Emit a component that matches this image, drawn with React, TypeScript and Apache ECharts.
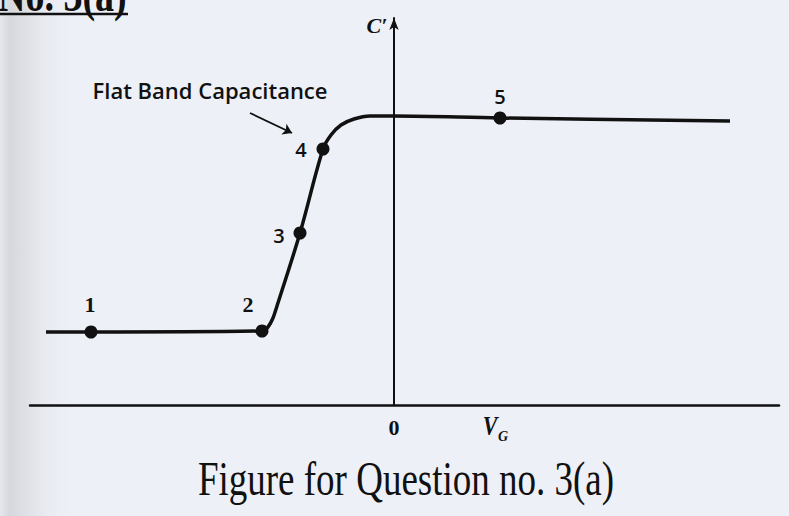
import React, { useEffect, useRef } from "react";
import * as echarts from "echarts";

// C'-V curve (x: V_G, y: C')
const curveX = [-3.48, -3.03, -1.32, -1.26, -1.21, -1.17, -0.94, -0.71, -0.63, -0.53, -0.4, -0.24, 0, 1.06, 3.36];
const curveY = [0.73, 0.73, 0.74, 0.78, 0.87, 0.99, 1.72, 2.56, 2.7, 2.8, 2.86, 2.89, 2.89, 2.87, 2.84];

// numbered points on the curve
const pointX = [-3.03, -1.32, -0.94, -0.71, 1.06];
const pointY = [0.73, 0.74, 1.72, 2.56, 2.87];
const pointLabels = ["1", "2", "3", "4", "5"];

// annotation arrow (data coords)
const arrowFrom = [-1.44, 2.92];
const arrowTo = [-1.02, 2.72];

// axes
const xRange = [-3.64, 3.85];
const yRange = [0, 3.87];
const xTickValues = [0];
const xTickLabels = ["0"];

const INK = "#111111";
const SERIF = "'Liberation Serif', 'DejaVu Serif', serif";
const SANS = "'Open Sans', 'Noto Sans', sans-serif";

export default function App() {
  const ref = useRef<HTMLDivElement>(null);

  useEffect(() => {
    if (!ref.current) return;
    const chart = echarts.init(ref.current, undefined, { renderer: "svg" });

    const labelCfg = [
      { offset: [-1, -28], fontFamily: SERIF, fontSize: 22, fontWeight: "bold" },
      { offset: [-14, -27], fontFamily: SERIF, fontSize: 22, fontWeight: "bold" },
      { offset: [-21, 2], fontFamily: SANS, fontSize: 20, fontWeight: 600 },
      { offset: [-22, 0], fontFamily: SANS, fontSize: 20, fontWeight: 600 },
      { offset: [0, -22], fontFamily: SANS, fontSize: 20, fontWeight: 600 },
    ];

    const option: any = {
      animation: false,
      backgroundColor: "#eef0f7",
      grid: { left: 30, right: 10, top: 18, bottom: 111 },
      xAxis: {
        type: "value",
        min: xRange[0],
        max: xRange[1],
        axisLine: { show: true, onZero: true, lineStyle: { color: INK, width: 2.5 } },
        axisTick: { show: false },
        splitLine: { show: false },
        axisLabel: {
          show: true,
          customValues: xTickValues,
          formatter: (v: number) => {
            const i = xTickValues.findIndex((t) => Math.abs(t - v) < 1e-9);
            return i >= 0 ? xTickLabels[i] : "";
          },
          margin: 11,
          color: INK,
          fontFamily: SERIF,
          fontWeight: "bold",
          fontSize: 22,
        },
      },
      yAxis: {
        type: "value",
        min: yRange[0],
        max: yRange[1],
        axisLine: {
          show: true,
          onZero: true,
          symbol: ["none", "arrow"],
          symbolSize: [7, 12],
          lineStyle: { color: INK, width: 2 },
        },
        axisTick: { show: false },
        axisLabel: { show: false },
        splitLine: { show: false },
      },
      series: [
        {
          type: "line",
          data: curveX.map((x, i) => [x, curveY[i]]),
          smooth: 0.35,
          symbol: "none",
          lineStyle: { color: INK, width: 3.5 },
          z: 3,
        },
        {
          type: "scatter",
          data: pointX.map((x, i) => ({
            value: [x, pointY[i]],
            label: {
              show: true,
              position: "inside",
              formatter: pointLabels[i],
              color: INK,
              opacity: 1,
              ...labelCfg[i],
            },
          })),
          symbol: "circle",
          symbolSize: 13,
          itemStyle: { color: INK, opacity: 1 },
          emphasis: { disabled: true },
          z: 4,
        },
        {
          type: "lines",
          coordinateSystem: "cartesian2d",
          data: [{ coords: [arrowFrom, arrowTo] }],
          symbol: ["none", "arrow"],
          symbolSize: [0, 9],
          lineStyle: { color: INK, width: 1.8, opacity: 1, curveness: 0 },
          z: 4,
        },
      ],
      graphic: [
        {
          type: "rect",
          z: -10,
          shape: { x: 0, y: 0, width: 80, height: 516 },
          style: {
            fill: {
              type: "linear",
              x: 0, y: 0, x2: 1, y2: 0,
              colorStops: [
                { offset: 0, color: "#e6e7ec" },
                { offset: 0.12, color: "#d7d8de" },
                { offset: 0.32, color: "#dfe0e6" },
                { offset: 0.5, color: "#e6e8ee" },
                { offset: 1, color: "rgba(238,240,247,0)" },
              ],
            },
          },
        },
        {
          type: "text",
          x: -2,
          y: -5,
          scaleY: 1.3,
          style: {
            text: "No. 3(a)",
            fill: INK,
            font: `bold 38px ${SERIF}`,
            align: "left",
            verticalAlign: "middle",
          },
        },
        {
          type: "line",
          shape: { x1: 0, y1: 14, x2: 128, y2: 14 },
          style: { stroke: INK, lineWidth: 2.5 },
        },
        {
          type: "text",
          x: 210,
          y: 90,
          style: {
            text: "Flat Band Capacitance",
            fill: INK,
            font: `600 22px ${SANS}`,
            align: "center",
            verticalAlign: "middle",
          },
        },
        {
          type: "text",
          x: 377,
          y: 25,
          style: {
            text: "C′",
            fill: INK,
            font: `italic bold 22px ${SERIF}`,
            align: "center",
            verticalAlign: "middle",
          },
        },
        {
          type: "text",
          x: 490,
          y: 426,
          scaleY: 1.2,
          style: {
            text: "V",
            fill: INK,
            font: `italic bold 22px ${SERIF}`,
            align: "center",
            verticalAlign: "middle",
          },
        },
        {
          type: "text",
          x: 503,
          y: 436,
          style: {
            text: "G",
            fill: INK,
            font: `italic bold 14px ${SERIF}`,
            align: "center",
            verticalAlign: "middle",
          },
        },
        {
          type: "text",
          x: 406,
          y: 479,
          scaleY: 1.3,
          style: {
            text: "Figure for Question no. 3(a)",
            fill: INK,
            font: `37px ${SERIF}`,
            align: "center",
            verticalAlign: "middle",
          },
        },
      ],
    };

    chart.setOption(option);
    return () => chart.dispose();
  }, []);

  return (
    <div
      ref={ref}
      style={{ position: "fixed", left: 0, top: 0, width: 789, height: 516 }}
    />
  );
}
